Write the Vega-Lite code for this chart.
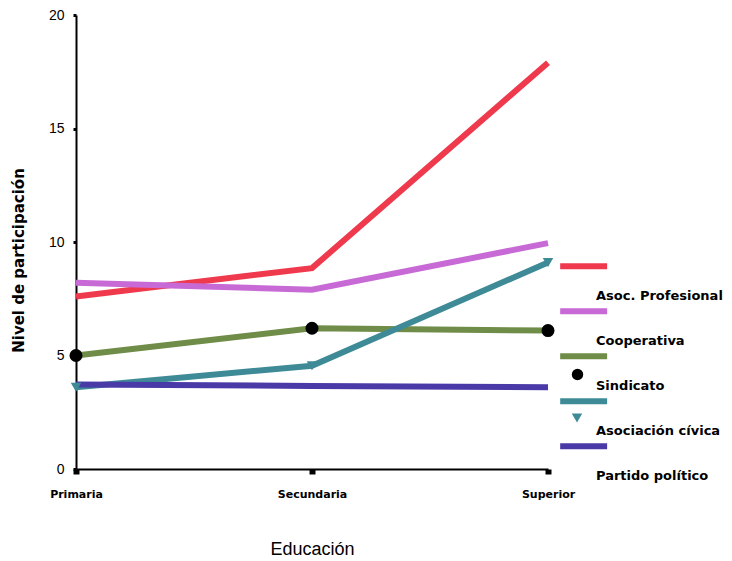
{
  "$schema": "https://vega.github.io/schema/vega-lite/v6.json",
  "width": 472,
  "height": 454,
  "autosize": "none",
  "padding": {"left": 76, "top": 15, "right": 184, "bottom": 92},
  "background": "white",
  "config": {"view": {"stroke": null}, "font": "Liberation Sans"},
  "data": {
    "values": [
      {"educacion": "Primaria", "tipo": "Asoc. Profesional", "nivel": 7.6},
      {"educacion": "Secundaria", "tipo": "Asoc. Profesional", "nivel": 8.85},
      {"educacion": "Superior", "tipo": "Asoc. Profesional", "nivel": 17.9},
      {"educacion": "Primaria", "tipo": "Cooperativa", "nivel": 8.2},
      {"educacion": "Secundaria", "tipo": "Cooperativa", "nivel": 7.9},
      {"educacion": "Superior", "tipo": "Cooperativa", "nivel": 9.95},
      {"educacion": "Primaria", "tipo": "Sindicato", "nivel": 5.0},
      {"educacion": "Secundaria", "tipo": "Sindicato", "nivel": 6.2},
      {"educacion": "Superior", "tipo": "Sindicato", "nivel": 6.1},
      {"educacion": "Primaria", "tipo": "Asociación cívica", "nivel": 3.6},
      {"educacion": "Secundaria", "tipo": "Asociación cívica", "nivel": 4.55},
      {"educacion": "Superior", "tipo": "Asociación cívica", "nivel": 9.1},
      {"educacion": "Primaria", "tipo": "Partido político", "nivel": 3.72},
      {"educacion": "Secundaria", "tipo": "Partido político", "nivel": 3.66},
      {"educacion": "Superior", "tipo": "Partido político", "nivel": 3.6}
    ]
  },
  "encoding": {
    "x": {
      "field": "educacion",
      "type": "ordinal",
      "sort": ["Primaria", "Secundaria", "Superior"],
      "scale": {"type": "point", "padding": 0},
      "axis": {
        "title": "Educación",
        "titleFontSize": 18,
        "titleFontWeight": "normal",
        "titleColor": "black",
        "titlePadding": 41,
        "labelAngle": 0,
        "labelFont": "DejaVu Sans",
        "labelFontSize": 11,
        "labelFontWeight": "bold",
        "labelColor": "black",
        "labelPadding": 14,
        "domainColor": "black",
        "domainWidth": 2,
        "tickColor": "black",
        "tickSize": 5,
        "tickWidth": 6,
        "grid": false
      }
    },
    "y": {
      "field": "nivel",
      "type": "quantitative",
      "scale": {"domain": [0, 20]},
      "axis": {
        "title": "Nivel de participación",
        "titleFont": "DejaVu Sans",
        "titleFontSize": 15,
        "titleFontWeight": "bold",
        "titleColor": "black",
        "titleX": -50,
        "titleY": 245,
        "values": [0, 5, 10, 15, 20],
        "labelFontSize": 14,
        "labelColor": "black",
        "labelPadding": 9,
        "labelBaseline": "middle",
        "domainColor": "black",
        "domainWidth": 2,
        "tickColor": "black",
        "tickSize": 3,
        "tickWidth": 3,
        "grid": false
      }
    },
    "color": {
      "field": "tipo",
      "type": "nominal",
      "scale": {
        "domain": ["Asoc. Profesional", "Cooperativa", "Sindicato", "Asociación cívica", "Partido político"],
        "range": ["#ef3a4e", "#c86ad6", "#6f8c48", "#3e8b97", "#4a3aa8"]
      },
      "legend": {
        "orient": "none",
        "legendX": 481,
        "legendY": 244,
        "title": null,
        "symbolType": "M-1,-1.92H5",
        "symbolSize": 245,
        "symbolStrokeWidth": 6,
        "clipHeight": 44.75,
        "labelOffset": 17,
        "labelFont": "DejaVu Sans",
        "labelFontSize": 13,
        "labelFontWeight": "bold",
        "labelColor": "black",
        "labelLimit": 200,
        "rowPadding": 0,
        "encode": {"labels": {"update": {"dy": {"value": 15}}}}
      }
    }
  },
  "layer": [
    {"mark": {"type": "line", "strokeWidth": 6}},
    {
      "transform": [{"filter": "datum.tipo === 'Sindicato'"}],
      "mark": {"type": "point", "filled": true, "size": 170, "opacity": 1, "color": "black"},
      "encoding": {
        "color": {"value": "black"},
        "shape": {
          "field": "tipo",
          "type": "nominal",
          "scale": {"domain": ["Sindicato"], "range": ["circle"]},
          "legend": {
            "orient": "none",
            "legendX": 495,
            "legendY": 353,
            "title": null,
            "symbolSize": 130,
            "symbolFillColor": "black",
            "symbolStrokeColor": "black",
            "symbolOpacity": 1,
            "labelExpr": "''"
          }
        }
      }
    },
    {
      "transform": [{"filter": "datum.tipo === 'Asociación cívica'"}],
      "mark": {"type": "point", "filled": true, "size": 110, "opacity": 1, "shape": "triangle-down"},
      "encoding": {
        "color": {"value": null},
        "fill": {
          "field": "tipo",
          "type": "nominal",
          "scale": {"domain": ["Asociación cívica"], "range": ["#3e8b97"]},
          "legend": {
            "orient": "none",
            "legendX": 495,
            "legendY": 397,
            "title": null,
            "symbolType": "triangle-down",
            "symbolSize": 110,
            "symbolOpacity": 1,
            "labelExpr": "''"
          }
        }
      }
    }
  ]
}
